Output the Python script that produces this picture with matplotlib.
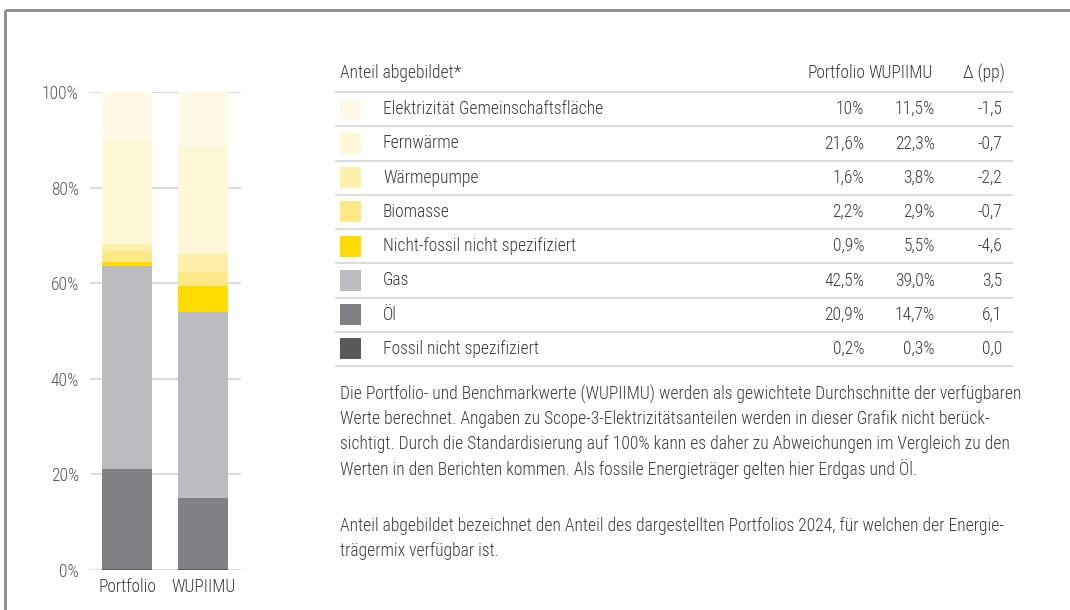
import matplotlib.pyplot as plt
from matplotlib import font_manager
from matplotlib.patches import Rectangle

# condensed sans like the original; take the first one that is installed
installed = {f.name for f in font_manager.fontManager.ttflist}
for cand in ["Roboto Condensed", "Archivo Narrow", "Asap Condensed", "Liberation Sans Narrow", "DejaVu Sans"]:
    if cand in installed:
        FONT = cand
        break
plt.rcParams['font.family'] = [FONT, 'DejaVu Sans']
plt.rcParams['font.weight'] = 'light'

# stack order bottom -> top
categories = ["Fossil nicht spezifiziert", "Öl", "Gas", "Nicht-fossil nicht spezifiziert",
              "Biomasse", "Wärmepumpe", "Fernwärme", "Elektrizität Gemeinschaftsfläche"]
colors = ["#58595b", "#808184", "#bbbcbf", "#ffdc00",
          "#fee888", "#fef0ab", "#fef8d6", "#fefae6"]
portfolio = [0.2, 20.9, 42.5, 0.9, 2.2, 1.6, 21.6, 10.0]
wupiimu = [0.3, 14.7, 39.0, 5.5, 2.9, 3.8, 22.3, 11.5]
bar_names = ["Portfolio", "WUPIIMU"]

# table text, top -> bottom
portfolio_txt = ["10%", "21,6%", "1,6%", "2,2%", "0,9%", "42,5%", "20,9%", "0,2%"]
wupiimu_txt = ["11,5%", "22,3%", "3,8%", "2,9%", "5,5%", "39,0%", "14,7%", "0,3%"]
delta_txt = ["-1,5", "-0,7", "-2,2", "-0,7", "-4,6", "3,5", "6,1", "0,0"]

note_1 = [
    "Die Portfolio- und Benchmarkwerte (WUPIIMU) werden als gewichtete Durchschnitte der verfügbaren",
    "Werte berechnet. Angaben zu Scope-3-Elektrizitätsanteilen werden in dieser Grafik nicht berück-",
    "sichtigt. Durch die Standardisierung auf 100% kann es daher zu Abweichungen im Vergleich zu den",
    "Werten in den Berichten kommen. Als fossile Energieträger gelten hier Erdgas und Öl.",
]
note_2 = [
    "Anteil abgebildet bezeichnet den Anteil des dargestellten Portfolios 2024, für welchen der Energie-",
    "trägermix verfügbar ist.",
]

W, H = 1070, 610
TXT = "#3a3a3a"
GRID = "#dcdcdc"

fig = plt.figure(figsize=(W / 100, H / 100), dpi=100)

# pixel-coordinate overlay for table, notes, frame
tx = fig.add_axes([0, 0, 1, 1], facecolor="none")
tx.set_xlim(0, W)
tx.set_ylim(H, 0)
tx.axis("off")

# pick a font size so the first note line is as wide as in the original (~680 px)
renderer = fig.canvas.get_renderer()
probe = tx.text(0, 0, note_1[0], fontsize=10)
FS = 10 * 680 / probe.get_window_extent(renderer).width
probe.remove()

# stacked bars
ax = fig.add_axes([90 / W, (H - 570) / H, 151 / W, 478 / H])
bottom_p, bottom_w = 0, 0
for cat, col, p, w in zip(categories, colors, portfolio, wupiimu):
    ax.bar([0, 1], [p, w], bottom=[bottom_p, bottom_w], width=0.66, color=col, zorder=3)
    bottom_p += p
    bottom_w += w
ax.set_xlim(-0.49, 1.5)
ax.set_ylim(0, 100)
ax.set_yticks([0, 20, 40, 60, 80, 100])
ax.set_yticklabels([f"{v}%" for v in [0, 20, 40, 60, 80, 100]])
ax.set_xticks([0, 1])
ax.set_xticklabels(bar_names)
ax.tick_params(length=0, labelsize=FS, colors="#555555")
ax.tick_params(axis="y", pad=8)
ax.tick_params(axis="x", pad=6, labelcolor=TXT)
ax.grid(axis="y", color=GRID, linewidth=1.5, zorder=0)
for s in ax.spines.values():
    s.set_visible(False)

# frame
tx.plot([5, W], [10, 10], color="#8a8a8a", linewidth=2, solid_capstyle="butt")
tx.plot([5, 5], [10, H], color="#8a8a8a", linewidth=2, solid_capstyle="butt")

tx.text(340, 73, "Anteil abgebildet*", fontsize=FS, color=TXT, va="center")
tx.text(865, 73, "Portfolio", fontsize=FS, color=TXT, va="center", ha="right")
tx.text(933, 73, "WUPIIMU", fontsize=FS, color=TXT, va="center", ha="right")
tx.text(1005, 73, "Δ (pp)", fontsize=FS, color=TXT, va="center", ha="right")

row_h = 34.25
line0 = 92
n = len(categories)
for i in range(n + 1):
    y = line0 + i * row_h
    tx.plot([335, 1013], [y, y], color=GRID, linewidth=1.5, solid_capstyle="butt")

for i in range(n):
    k = n - 1 - i
    yc = line0 + (i + 0.5) * row_h
    tx.add_patch(Rectangle((340, yc - 10.5), 21, 21, color=colors[k], linewidth=0))
    tx.text(383, yc, categories[k], fontsize=FS, color=TXT, va="center")
    tx.text(864, yc, portfolio_txt[i], fontsize=FS, color=TXT, va="center", ha="right")
    tx.text(935, yc, wupiimu_txt[i], fontsize=FS, color=TXT, va="center", ha="right")
    tx.text(1002, yc, delta_txt[i], fontsize=FS, color=TXT, va="center", ha="right")

for j, line in enumerate(note_1):
    tx.text(340, 394 + j * 25, line, fontsize=FS, color=TXT, va="center")
for j, line in enumerate(note_2):
    tx.text(340, 526 + j * 25, line, fontsize=FS, color=TXT, va="center")

fig.savefig("out.png", dpi=100)
